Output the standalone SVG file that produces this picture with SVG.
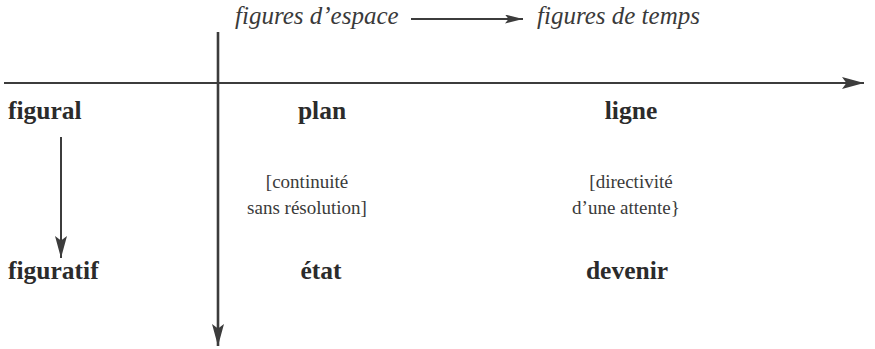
<svg xmlns="http://www.w3.org/2000/svg" width="875" height="349" viewBox="0 0 875 349">
<style>
text{font-family:"Liberation Serif","Times New Roman",serif;fill:#2b2b2b}
.it{font-style:italic;font-size:25px;fill:#3a3a3a}
.b{font-weight:bold;font-size:25.5px}
.n{font-size:19px;fill:#3a3a3a}
.ax{stroke:#3c3c3c;fill:none}
</style>
<defs>
<marker id="ah" viewBox="0 0 10 10" refX="10" refY="5" markerWidth="22" markerHeight="12" markerUnits="userSpaceOnUse" orient="auto" preserveAspectRatio="none">
<path d="M0,0 L10,5 L0,10 L2,5 z" fill="#3c3c3c"/>
</marker>
<marker id="ahS" viewBox="0 0 10 10" refX="10" refY="5" markerWidth="18" markerHeight="9" markerUnits="userSpaceOnUse" orient="auto" preserveAspectRatio="none">
<path d="M0,0 L10,5 L0,10 L2,5 z" fill="#3c3c3c"/>
</marker>
</defs>
<g id="connectors">
<line class="ax" x1="4" y1="83" x2="864" y2="83" stroke-width="2" marker-end="url(#ah)"/>
<line class="ax" x1="218" y1="32" x2="218" y2="346" stroke-width="2.6" marker-end="url(#ah)"/>
<line class="ax" x1="61" y1="137" x2="61" y2="258" stroke-width="2" marker-end="url(#ah)"/>
<line class="ax" x1="411" y1="19" x2="523" y2="19" stroke-width="2" marker-end="url(#ahS)"/>
</g>
<g id="top-left"><text class="it" x="235" y="24">figures d’espace</text></g>
<g id="top-right"><text class="it" x="537" y="24">figures de temps</text></g>
<g id="figural"><text class="b" x="8" y="119">figural</text></g>
<g id="figuratif"><text class="b" x="8" y="279">figuratif</text></g>
<g id="plan"><text class="b" x="322" y="119" text-anchor="middle">plan</text></g>
<g id="ligne"><text class="b" x="631" y="119" text-anchor="middle">ligne</text></g>
<g id="continuite"><text class="n" x="307" y="188" text-anchor="middle">[continuité</text><text class="n" x="307" y="214" text-anchor="middle">sans résolution]</text></g>
<g id="directivite"><text class="n" x="631" y="188" text-anchor="middle">[directivité</text><text class="n" x="626" y="214" text-anchor="middle">d’une attente}</text></g>
<g id="etat"><text class="b" x="321" y="279" text-anchor="middle">état</text></g>
<g id="devenir"><text class="b" x="627" y="279" text-anchor="middle">devenir</text></g>
</svg>
